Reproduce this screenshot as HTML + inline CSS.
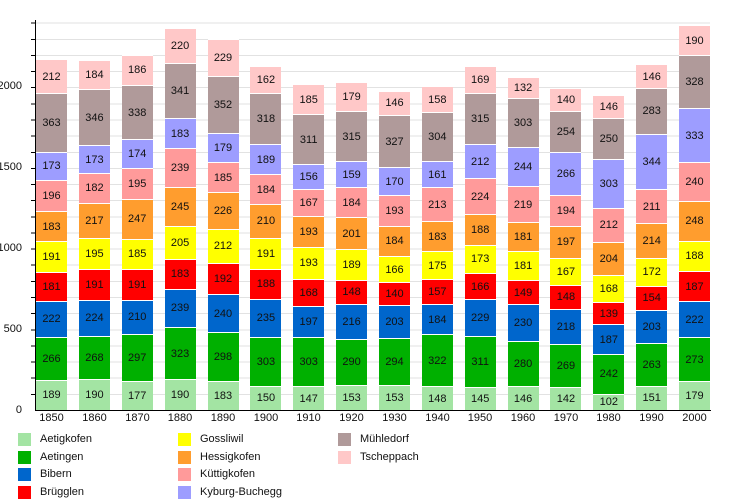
<!DOCTYPE html>
<html><head><meta charset="utf-8"><style>
body{margin:0;width:745px;height:500px;background:#fff;font-family:"Liberation Sans",sans-serif;font-size:11px;color:#111;position:relative;overflow:hidden}
.grid{position:absolute;left:35px;top:21px;width:675px;height:389px;background:repeating-linear-gradient(to top,transparent 0,transparent 15.14px,#e2e2e2 15.14px,#e2e2e2 16.14px)}
.ticks{position:absolute;left:31px;top:21px;width:4px;height:389px;background:repeating-linear-gradient(to top,transparent 0,transparent 15.14px,#000 15.14px,#000 16.14px)}
.axy{position:absolute;left:35px;top:20px;width:1px;height:391px;background:#000}
.axx{position:absolute;left:35px;top:410px;width:676px;height:1px;background:#000}
.yl{position:absolute;right:723px;font-size:11px;line-height:12px}
.bar{position:absolute;bottom:90px;width:31px;display:flex;flex-direction:column-reverse}
.bar div{box-sizing:border-box;border-top:1px solid #fff;display:flex;align-items:center;justify-content:center;overflow:visible;white-space:nowrap}
.xl{position:absolute;top:412px;width:43px;text-align:center}
.c0{background:#a3e4a3}.c1{background:#00b000}.c2{background:#0066cc}.c3{background:#ff0000}.c4{background:#ffff00}.c5{background:#ff9d2e}.c6{background:#ff9a9a}.c7{background:#9d9dff}.c8{background:#b09a9a}.c9{background:#ffc8c8}
.lg{position:absolute;display:flex;align-items:center;height:14px}
.lg span{display:inline-block;width:13px;height:13px;margin-right:9px}
</style></head><body>
<div class="grid"></div><div class="ticks"></div><div class="axy"></div><div class="axx"></div>
<div class="yl" style="top:404px">0</div>
<div class="yl" style="top:323px">500</div>
<div class="yl" style="top:242px">1000</div>
<div class="yl" style="top:161px">1500</div>
<div class="yl" style="top:80px">2000</div>
<div id="bars"></div>
<script>
</script>
<div class="bar" style="left:36px"><div class="c0" style="height:30.5px">189</div><div class="c1" style="height:42.9px">266</div><div class="c2" style="height:35.8px">222</div><div class="c3" style="height:29.2px">181</div><div class="c4" style="height:30.8px">191</div><div class="c5" style="height:29.5px">183</div><div class="c6" style="height:31.6px">196</div><div class="c7" style="height:27.9px">173</div><div class="c8" style="height:58.6px">363</div><div class="c9" style="height:34.2px">212</div></div>
<div class="bar" style="left:78.9px"><div class="c0" style="height:30.7px">190</div><div class="c1" style="height:43.3px">268</div><div class="c2" style="height:36.2px">224</div><div class="c3" style="height:30.8px">191</div><div class="c4" style="height:31.5px">195</div><div class="c5" style="height:35px">217</div><div class="c6" style="height:29.4px">182</div><div class="c7" style="height:27.9px">173</div><div class="c8" style="height:55.8px">346</div><div class="c9" style="height:29.7px">184</div></div>
<div class="bar" style="left:121.7px"><div class="c0" style="height:28.6px">177</div><div class="c1" style="height:47.9px">297</div><div class="c2" style="height:33.9px">210</div><div class="c3" style="height:30.8px">191</div><div class="c4" style="height:29.9px">185</div><div class="c5" style="height:39.9px">247</div><div class="c6" style="height:31.5px">195</div><div class="c7" style="height:28.1px">174</div><div class="c8" style="height:54.6px">338</div><div class="c9" style="height:30px">186</div></div>
<div class="bar" style="left:164.6px"><div class="c0" style="height:30.7px">190</div><div class="c1" style="height:52.1px">323</div><div class="c2" style="height:38.6px">239</div><div class="c3" style="height:29.5px">183</div><div class="c4" style="height:33.1px">205</div><div class="c5" style="height:39.5px">245</div><div class="c6" style="height:38.6px">239</div><div class="c7" style="height:29.5px">183</div><div class="c8" style="height:55px">341</div><div class="c9" style="height:35.5px">220</div></div>
<div class="bar" style="left:207.5px"><div class="c0" style="height:29.5px">183</div><div class="c1" style="height:48.1px">298</div><div class="c2" style="height:38.7px">240</div><div class="c3" style="height:31px">192</div><div class="c4" style="height:34.2px">212</div><div class="c5" style="height:36.5px">226</div><div class="c6" style="height:29.9px">185</div><div class="c7" style="height:28.9px">179</div><div class="c8" style="height:56.8px">352</div><div class="c9" style="height:37px">229</div></div>
<div class="bar" style="left:250.4px"><div class="c0" style="height:24.2px">150</div><div class="c1" style="height:48.9px">303</div><div class="c2" style="height:37.9px">235</div><div class="c3" style="height:30.3px">188</div><div class="c4" style="height:30.8px">191</div><div class="c5" style="height:33.9px">210</div><div class="c6" style="height:29.7px">184</div><div class="c7" style="height:30.5px">189</div><div class="c8" style="height:51.3px">318</div><div class="c9" style="height:26.1px">162</div></div>
<div class="bar" style="left:293.2px"><div class="c0" style="height:23.7px">147</div><div class="c1" style="height:48.9px">303</div><div class="c2" style="height:31.8px">197</div><div class="c3" style="height:27.1px">168</div><div class="c4" style="height:31.1px">193</div><div class="c5" style="height:31.1px">193</div><div class="c6" style="height:27px">167</div><div class="c7" style="height:25.2px">156</div><div class="c8" style="height:50.2px">311</div><div class="c9" style="height:29.9px">185</div></div>
<div class="bar" style="left:336.1px"><div class="c0" style="height:24.7px">153</div><div class="c1" style="height:46.8px">290</div><div class="c2" style="height:34.9px">216</div><div class="c3" style="height:23.9px">148</div><div class="c4" style="height:30.5px">189</div><div class="c5" style="height:32.4px">201</div><div class="c6" style="height:29.7px">184</div><div class="c7" style="height:25.7px">159</div><div class="c8" style="height:50.8px">315</div><div class="c9" style="height:28.9px">179</div></div>
<div class="bar" style="left:379px"><div class="c0" style="height:24.7px">153</div><div class="c1" style="height:47.5px">294</div><div class="c2" style="height:32.8px">203</div><div class="c3" style="height:22.6px">140</div><div class="c4" style="height:26.8px">166</div><div class="c5" style="height:29.7px">184</div><div class="c6" style="height:31.1px">193</div><div class="c7" style="height:27.4px">170</div><div class="c8" style="height:52.8px">327</div><div class="c9" style="height:23.6px">146</div></div>
<div class="bar" style="left:421.8px"><div class="c0" style="height:23.9px">148</div><div class="c1" style="height:52px">322</div><div class="c2" style="height:29.7px">184</div><div class="c3" style="height:25.3px">157</div><div class="c4" style="height:28.2px">175</div><div class="c5" style="height:29.5px">183</div><div class="c6" style="height:34.4px">213</div><div class="c7" style="height:26px">161</div><div class="c8" style="height:49.1px">304</div><div class="c9" style="height:25.5px">158</div></div>
<div class="bar" style="left:464.7px"><div class="c0" style="height:23.4px">145</div><div class="c1" style="height:50.2px">311</div><div class="c2" style="height:37px">229</div><div class="c3" style="height:26.8px">166</div><div class="c4" style="height:27.9px">173</div><div class="c5" style="height:30.3px">188</div><div class="c6" style="height:36.2px">224</div><div class="c7" style="height:34.2px">212</div><div class="c8" style="height:50.8px">315</div><div class="c9" style="height:27.3px">169</div></div>
<div class="bar" style="left:507.6px"><div class="c0" style="height:23.6px">146</div><div class="c1" style="height:45.2px">280</div><div class="c2" style="height:37.1px">230</div><div class="c3" style="height:24px">149</div><div class="c4" style="height:29.2px">181</div><div class="c5" style="height:29.2px">181</div><div class="c6" style="height:35.3px">219</div><div class="c7" style="height:39.4px">244</div><div class="c8" style="height:48.9px">303</div><div class="c9" style="height:21.3px">132</div></div>
<div class="bar" style="left:550.4px"><div class="c0" style="height:22.9px">142</div><div class="c1" style="height:43.4px">269</div><div class="c2" style="height:35.2px">218</div><div class="c3" style="height:23.9px">148</div><div class="c4" style="height:27px">167</div><div class="c5" style="height:31.8px">197</div><div class="c6" style="height:31.3px">194</div><div class="c7" style="height:42.9px">266</div><div class="c8" style="height:41px">254</div><div class="c9" style="height:22.6px">140</div></div>
<div class="bar" style="left:593.3px"><div class="c0" style="height:16.5px">102</div><div class="c1" style="height:39.1px">242</div><div class="c2" style="height:30.2px">187</div><div class="c3" style="height:22.4px">139</div><div class="c4" style="height:27.1px">168</div><div class="c5" style="height:32.9px">204</div><div class="c6" style="height:34.2px">212</div><div class="c7" style="height:48.9px">303</div><div class="c8" style="height:40.4px">250</div><div class="c9" style="height:23.6px">146</div></div>
<div class="bar" style="left:636.2px"><div class="c0" style="height:24.4px">151</div><div class="c1" style="height:42.4px">263</div><div class="c2" style="height:32.8px">203</div><div class="c3" style="height:24.9px">154</div><div class="c4" style="height:27.8px">172</div><div class="c5" style="height:34.5px">214</div><div class="c6" style="height:34.1px">211</div><div class="c7" style="height:55.5px">344</div><div class="c8" style="height:45.7px">283</div><div class="c9" style="height:23.6px">146</div></div>
<div class="bar" style="left:679px"><div class="c0" style="height:28.9px">179</div><div class="c1" style="height:44.1px">273</div><div class="c2" style="height:35.8px">222</div><div class="c3" style="height:30.2px">187</div><div class="c4" style="height:30.3px">188</div><div class="c5" style="height:40px">248</div><div class="c6" style="height:38.7px">240</div><div class="c7" style="height:53.7px">333</div><div class="c8" style="height:52.9px">328</div><div class="c9" style="height:30.7px">190</div></div>
<div class="xl" style="left:30px">1850</div><div class="xl" style="left:73px">1860</div><div class="xl" style="left:116px">1870</div><div class="xl" style="left:158.5px">1880</div><div class="xl" style="left:201.5px">1890</div><div class="xl" style="left:244.5px">1900</div><div class="xl" style="left:287px">1910</div><div class="xl" style="left:330px">1920</div><div class="xl" style="left:373px">1930</div><div class="xl" style="left:416px">1940</div><div class="xl" style="left:458.5px">1950</div><div class="xl" style="left:501.5px">1960</div><div class="xl" style="left:544.5px">1970</div><div class="xl" style="left:587px">1980</div><div class="xl" style="left:630px">1990</div><div class="xl" style="left:673px">2000</div>
<div class="lg" style="left:18px;top:432px"><span class="c0"></span>Aetigkofen</div>
<div class="lg" style="left:18px;top:450px"><span class="c1"></span>Aetingen</div>
<div class="lg" style="left:18px;top:467px"><span class="c2"></span>Bibern</div>
<div class="lg" style="left:18px;top:485px"><span class="c3"></span>Brügglen</div>
<div class="lg" style="left:178px;top:432px"><span class="c4"></span>Gossliwil</div>
<div class="lg" style="left:178px;top:450px"><span class="c5"></span>Hessigkofen</div>
<div class="lg" style="left:178px;top:467px"><span class="c6"></span>Küttigkofen</div>
<div class="lg" style="left:178px;top:485px"><span class="c7"></span>Kyburg-Buchegg</div>
<div class="lg" style="left:338px;top:432px"><span class="c8"></span>Mühledorf</div>
<div class="lg" style="left:338px;top:450px"><span class="c9"></span>Tscheppach</div>
</body></html>
